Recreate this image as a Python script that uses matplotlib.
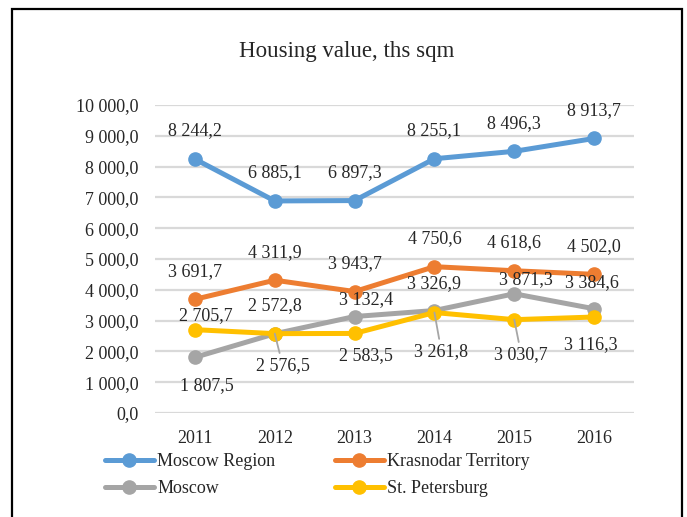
import matplotlib.pyplot as plt
from matplotlib.patches import Rectangle
from matplotlib.ticker import FuncFormatter

plt.rcParams['font.family'] = ['Liberation Serif', 'DejaVu Serif']

# Data
years = ["2011", "2012", "2013", "2014", "2015", "2016"]
moscow_region = [8244.2, 6885.1, 6897.3, 8255.1, 8496.3, 8913.7]
krasnodar = [3691.7, 4311.9, 3943.7, 4750.6, 4618.6, 4502.0]
moscow = [1807.5, 2572.8, 3132.4, 3326.9, 3871.3, 3384.6]
st_petersburg = [2705.7, 2576.5, 2583.5, 3261.8, 3030.7, 3116.3]

# label offsets in pixels (dx, dy), dy positive = up
off_mr = [(0, 28)] * 6
off_kr = [(0, 28)] * 6
off_mo = [(12, -28), (0, 28), (11, 17), (0, 27), (12, 14), (-2, 26)]
off_sp = [(11, 14), (8, -32), (11, -22), (7, -39), (7, -35), (-3, -28)]
leaders_sp = [False, True, False, True, True, False]


def fmt(v, pos=None):
    s = f"{v:,.1f}".replace(",", " ").replace(".", ",")
    return s


fig = plt.figure(figsize=(6.87, 5.17), dpi=100)
ax = fig.add_axes([155 / 687, 1 - 413 / 517, (634 - 155) / 687, (413 - 105) / 517])

x = range(len(years))
series = [
    ("Moscow Region", moscow_region, "#5B9BD5", off_mr, None),
    ("Krasnodar Territory", krasnodar, "#ED7D31", off_kr, None),
    ("Moscow", moscow, "#A5A5A5", off_mo, None),
    ("St. Petersburg", st_petersburg, "#FFC000", off_sp, leaders_sp),
]

lines = {}
for name, vals, col, offs, leads in series:
    ln, = ax.plot(x, vals, color=col, lw=3.6, marker="o", ms=9.5,
                  solid_capstyle="round", label=name, zorder=3)
    lines[name] = ln

# data labels
px = 72 / 100
for name, vals, col, offs, leads in series:
    for i, v in enumerate(vals):
        dx, dy = offs[i]
        kw = {}
        if leads is not None and leads[i]:
            kw["arrowprops"] = dict(arrowstyle="-", color="#a6a6a6", lw=1.3,
                                    shrinkA=1, shrinkB=0)
        ax.annotate(fmt(v), (i, v), xytext=(dx * px, dy * px),
                    textcoords="offset points", ha="center", va="center",
                    fontsize=13, color="#262626", zorder=4, **kw)

ax.set_xlim(-0.5, 5.5)
ax.set_ylim(0, 10000)
ax.set_yticks(range(0, 10001, 1000))
ax.yaxis.set_major_formatter(FuncFormatter(fmt))
ax.set_xticks(list(x))
ax.set_xticklabels(years)
ax.grid(axis="y", color="#d9d9d9", lw=1.6, zorder=0)
ax.set_axisbelow(True)
for s in ax.spines.values():
    s.set_visible(False)
ax.tick_params(axis="both", length=0, labelsize=13, colors="#262626")
ax.tick_params(axis="y", pad=12)
ax.tick_params(axis="x", pad=12)

fig.text(347 / 687, 1 - 51 / 517, "Housing value, ths sqm", ha="center",
         va="center", fontsize=16.5, color="#262626")

order = ["Moscow Region", "Moscow", "Krasnodar Territory", "St. Petersburg"]
fig.legend([lines[n] for n in order], order, ncol=2, loc="upper left",
           bbox_to_anchor=(105 / 687, 1 - 453 / 517), frameon=False,
           fontsize=13, handlelength=2.7, handletextpad=0.2,
           columnspacing=3.3, labelspacing=0.56, borderpad=0, borderaxespad=0,
           labelcolor="#262626")

fig.patches.append(Rectangle((12 / 687, -0.05), 670 / 687, 1.05 - 9 / 517,
                             transform=fig.transFigure, fill=False,
                             edgecolor="black", lw=1.6))

fig.savefig("out.png", dpi=100)
